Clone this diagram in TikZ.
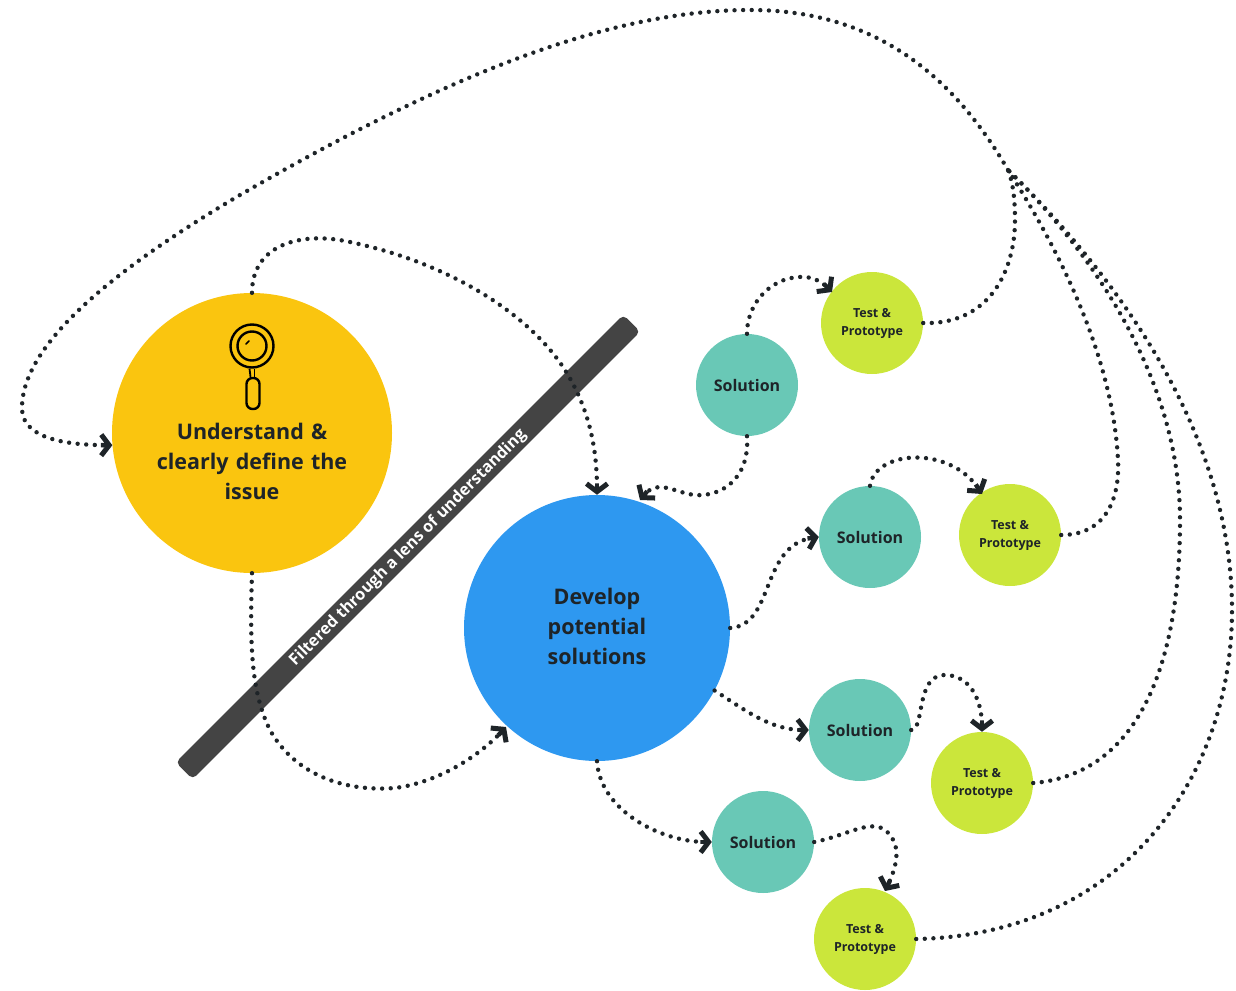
\documentclass[tikz,border=0pt]{standalone}
\usepackage{fontspec}
\setmainfont{Open Sans}
\usetikzlibrary{arrows.meta}
\definecolor{cyellow}{HTML}{FAC50F}
\definecolor{cblue}{HTML}{2E98F0}
\definecolor{cteal}{HTML}{69C8B6}
\definecolor{clime}{HTML}{CBE63B}
\definecolor{cbar}{HTML}{444444}
\definecolor{cink}{HTML}{1E2428}
\tikzset{
  big/.style={circle,inner sep=0pt,align=center,text=cink,font=\fontsize{21.5}{30}\selectfont\bfseries},
  sol/.style={circle,inner sep=0pt,minimum size=102pt,fill=cteal,text=cink,font=\fontsize{16}{20}\selectfont\bfseries},
  tst/.style={circle,inner sep=0pt,minimum size=102pt,fill=clime,align=center,text=cink,font=\fontsize{12.5}{18}\selectfont\bfseries},
  link/.style={draw=cink,line width=4.4pt,line cap=round,dash pattern=on 0pt off 8.6pt},
  arr/.style={link,-{Rectangle[length=11pt,width=4.4pt,sep=-11pt]Straight Barb[length=8pt,width=21pt,line width=5pt]}},
  lens/.style={draw=black,line width=2.4pt}
}
\begin{document}
\begin{tikzpicture}[x=1pt,y=-1pt]
\useasboundingbox (0,0) rectangle (1236,990);
% bar
\node[rotate=45,fill=cbar,rounded corners=5pt,minimum width=633pt,minimum height=24pt,inner sep=0pt] (bar) at (408,547) {};
\node[rotate=45,text=white,font=\fontsize{16.2}{18}\selectfont\bfseries] (barlabel) at (408,548) {Filtered through a lens of understanding};
% circles
\node[big,fill=cyellow,minimum size=280pt] (under) at (252,433) {};
\node[big,text width=200pt] (undertext) at (252,461) {Understand \&\\clearly define the\\issue};
\node[big,fill=cblue,minimum size=266pt] (dev) at (597,628) {};
\node[big,text width=150pt] (devtext) at (597,626) {Develop\\potential\\solutions};
\node[sol] (s1) at (747,385) {Solution};
\node[tst] (t1) at (872,323) {Test \&\\Prototype};
\node[sol] (s2) at (870,537) {Solution};
\node[tst] (t2) at (1010,535) {Test \&\\Prototype};
\node[sol] (s3) at (860,730) {Solution};
\node[tst] (t3) at (982,783) {Test \&\\Prototype};
\node[sol] (s4) at (763,842) {Solution};
\node[tst] (t4) at (865,939) {Test \&\\Prototype};
% magnifier
\node[circle,lens,minimum size=43pt,inner sep=0pt] (lensout) at (252,346) {};
\node[circle,lens,minimum size=29pt,inner sep=0pt] (lensin) at (252,346) {};
\node[lens,rounded corners=6pt,minimum width=13pt,minimum height=31pt,inner sep=0pt] (handle) at (253,393.5) {};
\draw[black,line width=1.8pt] ([xshift=-2.5pt]lensout.south) -- ([xshift=-2.5pt,yshift=0pt]handle.north);
\draw[black,line width=1.8pt] ([xshift=2.5pt]lensout.south) -- ([xshift=1.5pt]handle.north);
\draw[black,line width=1.6pt,line cap=round] (246,344) -- (249,341);
% connectors
\coordinate (hub) at (1008,170);
\draw[arr] (under.north) .. controls (252,245) and (300,232) .. (345,241)
  .. controls (450,262) and (530,315) .. (565,370)
  .. controls (590,410) and (597,450) .. (dev.north);
\draw[arr] (under.south) .. controls (250,640) and (250,690) .. (270,730)
  .. controls (295,775) and (345,792) .. (395,788)
  .. controls (440,782) and (480,755) .. (506,727);
\draw[arr] (hub) .. controls (950,70) and (870,10) .. (750,10)
  .. controls (600,10) and (430,85) .. (240,195)
  .. controls (130,260) and (20,340) .. (22,410)
  .. controls (24,440) and (70,445) .. (under.185);
\draw[arr] (s1.south) .. controls (750,480) and (720,497) .. (695,495)
  .. controls (675,493) and (658,478) .. (640,500);
\draw[arr] (s1.north) .. controls (747,300) and (775,275) .. (805,277)
  .. controls (815,278) and (822,282) .. (832,292);
\draw[arr] (dev.east) .. controls (775,625) and (760,545) .. (s2.west);
\draw[arr] (s2.north) .. controls (875,450) and (950,445) .. (982,494);
\draw[arr] (dev.-28) .. controls (745,710) and (770,730) .. (s3.west);
\draw[arr] (s3.east) .. controls (925,730) and (915,675) .. (945,675)
  .. controls (970,675) and (982,700) .. (t3.north);
\draw[arr] (dev.south) .. controls (600,810) and (660,842) .. (s4.west);
\draw[arr] (s4.east) .. controls (850,835) and (875,815) .. (890,835)
  .. controls (902,850) and (895,870) .. (885,891);
\draw[link] (t1.east) .. controls (990,325) and (1015,270) .. (1015,220)
  .. controls (1015,195) and (1012,180) .. (hub);
\draw[link] (t2.east) .. controls (1105,535) and (1120,500) .. (1118,460)
  .. controls (1112,340) and (1040,220) .. (hub);
\draw[link] (t3.east) .. controls (1130,775) and (1180,680) .. (1180,520)
  .. controls (1180,370) and (1080,240) .. (hub);
\draw[link] (t4.east) .. controls (1120,935) and (1232,780) .. (1232,610)
  .. controls (1232,420) and (1100,260) .. (hub);
\end{tikzpicture}
\end{document}
